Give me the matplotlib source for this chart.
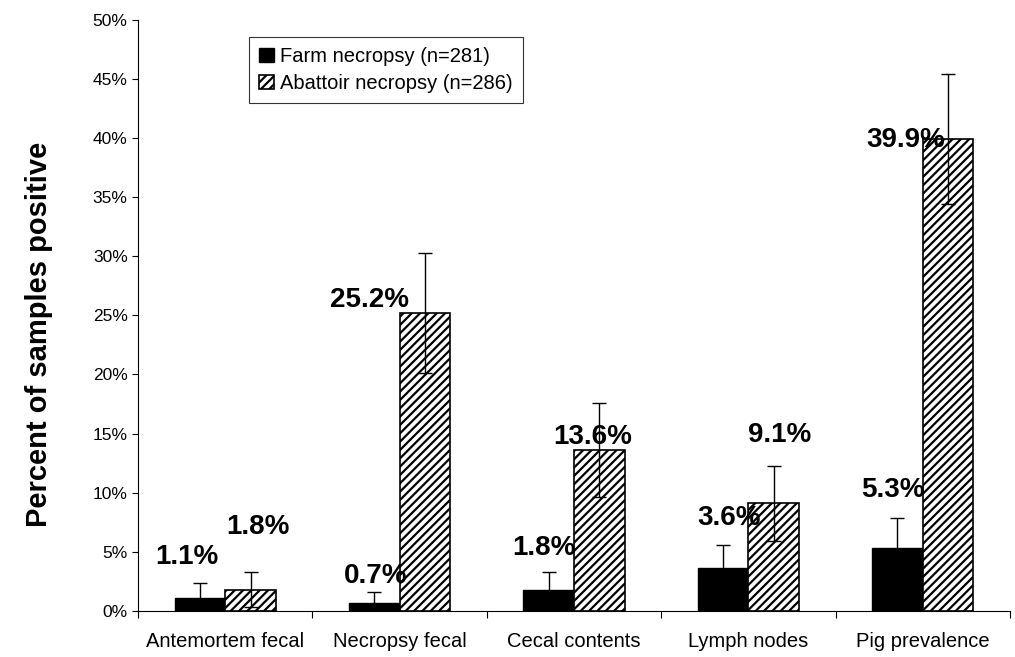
import matplotlib

matplotlib.use("Agg")

import matplotlib.pyplot as plt
import numpy as np

categories = ["Antemortem fecal", "Necropsy fecal", "Cecal contents", "Lymph nodes", "Pig prevalence"]
farm_values = [1.1, 0.7, 1.8, 3.6, 5.3]
farm_errors = [1.3, 0.9, 1.5, 2.0, 2.6]
abattoir_values = [1.8, 25.2, 13.6, 9.1, 39.9]
abattoir_errors = [1.5, 5.1, 4.0, 3.2, 5.5]
series_names = ["Farm necropsy (n=281)", "Abattoir necropsy (n=286)"]

# hand placed value labels (offset from category centre, height in %)
farm_label_dx = [-0.22, -0.14, -0.17, -0.11, -0.17]
farm_label_y = [4.6, 3.0, 5.3, 7.9, 10.2]
abattoir_label_dx = [0.19, -0.17, 0.11, 0.18, -0.10]
abattoir_label_y = [7.1, 26.3, 14.7, 14.9, 39.8]


def main() -> None:
    plt.rcParams["font.family"] = ["Liberation Sans", "DejaVu Sans"]
    plt.rcParams["hatch.linewidth"] = 1.6

    fig = plt.figure(figsize=(10.15, 6.57), dpi=100)
    ax = fig.add_axes([0.136, 0.07, 0.859, 0.9])

    x = np.arange(len(categories))
    width = 0.29

    ax.bar(x - width / 2, farm_values, width, color="black", edgecolor="black",
           label=series_names[0], zorder=2)
    ax.bar(x + width / 2, abattoir_values, width, color="white", edgecolor="black",
           hatch="////", linewidth=1.2, label=series_names[1], zorder=2)
    ax.errorbar(x - width / 2, farm_values, yerr=farm_errors, fmt="none", ecolor="black",
                elinewidth=1, capsize=5, capthick=1, zorder=3)
    ax.errorbar(x + width / 2, abattoir_values, yerr=abattoir_errors, fmt="none", ecolor="black",
                elinewidth=1, capsize=5, capthick=1, zorder=3)

    for i in range(len(categories)):
        ax.text(x[i] + farm_label_dx[i], farm_label_y[i], f"{farm_values[i]:.1f}%",
                ha="center", va="center", fontsize=20, fontweight="bold", zorder=4)
        ax.text(x[i] + abattoir_label_dx[i], abattoir_label_y[i], f"{abattoir_values[i]:.1f}%",
                ha="center", va="center", fontsize=20, fontweight="bold", zorder=4)

    ax.set_xlim(-0.5, len(categories) - 0.5)
    ax.set_ylim(0, 50)
    ax.set_yticks(np.arange(0, 51, 5))
    ax.set_yticklabels([f"{v}%" for v in range(0, 51, 5)], fontsize=12.5)
    ax.set_xticks(np.arange(-0.5, len(categories), 1.0))
    ax.set_xticklabels([])
    ax.set_xticks(x, minor=True)
    ax.set_xticklabels(categories, minor=True, fontsize=14.5)
    ax.tick_params(axis="x", which="minor", length=0, pad=15)
    ax.tick_params(axis="x", which="major", length=5, direction="out")
    ax.tick_params(axis="y", length=4, direction="out")

    ax.spines["top"].set_visible(False)
    ax.spines["right"].set_visible(False)
    ax.set_ylabel("Percent of samples positive", fontsize=21, fontweight="bold")
    ax.yaxis.set_label_coords(-0.098, 0.467)

    leg = ax.legend(loc="upper left", bbox_to_anchor=(0.116, 0.988), fontsize=14.5,
                    frameon=True, fancybox=False, edgecolor="black", handlelength=0.75,
                    handleheight=0.75, handletextpad=0.3, borderpad=0.5, labelspacing=0.4)
    leg.get_frame().set_linewidth(0.8)

    fig.savefig("out.png", dpi=100)
    plt.close(fig)


if __name__ == "__main__":
    main()
